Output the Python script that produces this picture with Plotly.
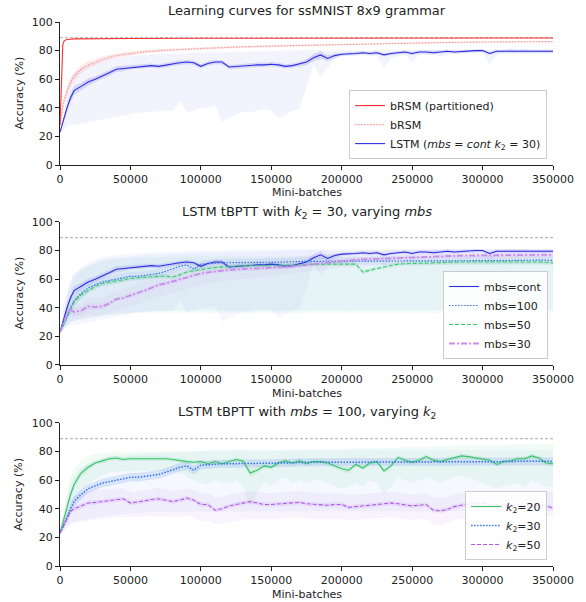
import plotly.graph_objects as go

# ---------------- data ----------------
X = [0, 2500, 5000, 7500] + list(range(10000, 350001, 5000))  # 73 sample points
XTICKS = list(range(0, 350001, 50000))
YTICKS = [0, 20, 40, 60, 80, 100]
BASELINE = 89.0

BRSM_P_X = [0, 500, 1000, 1500, 2000, 3000, 5000, 10000, 20000, 50000, 100000, 150000, 200000, 250000, 300000, 350000]
BRSM_P = [28, 45, 62, 76, 84, 87, 87.8, 88.2, 88.4, 88.5, 88.6, 88.6, 88.7, 88.7, 88.8, 88.8]

BRSM_X = [0, 1000, 2500, 5000, 7500, 10000, 15000, 20000, 25000, 30000, 40000, 50000, 60000, 75000,
          100000, 125000, 150000, 175000, 200000, 225000, 250000, 275000, 300000, 325000, 350000]
BRSM = [28, 36, 44, 52, 58, 62, 67, 70, 72, 74, 76.5, 78, 79.2, 80.3,
        81.6, 82.5, 83.2, 83.8, 84.4, 84.8, 85.3, 85.7, 86, 86.2, 86.3]
BRSM_SD = [0.5, 2, 2.5, 3, 3, 3, 2.5, 2.5, 2, 2, 1.5, 1.5, 1.2, 1,
           0.8, 0.8, 0.7, 0.7, 0.6, 0.6, 0.5, 0.5, 0.5, 0.5, 0.5]

CONT = [23, 32, 40, 47, 52, 55, 58, 60, 62, 64.5,
        67, 67.5, 68.5, 69, 69.5, 69.5, 69, 70, 70.5, 71.5,
        72, 71.5, 69, 71, 72, 72, 68.5, 69, 69.5, 69.5,
        70, 70, 70.5, 70, 69, 69.5, 70.5, 72, 75, 77,
        74.5, 76.5, 77.5, 77.5, 78, 78.5, 78, 78.5, 77, 78,
        78.5, 79, 78, 79, 79, 78.5, 79, 79.5, 79, 79.5,
        79.5, 80, 80, 78, 79.5, 79.5, 80, 79.5, 80, 79.5,
        79.5, 79.5, 79.5]
CONT_SD = [0.5, 2, 3, 3, 3, 2.5, 2.5, 2, 2, 2,
           2, 2, 1.5, 1.5, 1.5, 1.5, 1.5, 1.5, 1.5, 1.5,
           1.5, 1.5, 1.5, 1.5, 1.5, 1.5, 1.5, 1.5, 1.5, 1.5,
           1.5, 1.5, 1.5, 1.5, 1.5, 1.5, 1.5, 2, 2.5, 2.5,
           2, 1.5, 1, 1, 1, 1, 1, 1, 1, 1,
           1, 1, 1, 1, 1, 1, 1, 1, 1, 1,
           1, 1, 1, 1, 1, 1, 1, 1, 1, 1,
           1, 1, 1]
CONT_LO = [22, 25, 27, 28, 28, 29, 30, 31, 32, 33,
           34, 35, 36, 36.5, 37, 37, 37.5, 38, 38, 45,
           37, 38, 40, 40, 42, 30, 33, 35, 37, 37,
           38, 39, 38, 33, 35, 38, 39, 55, 70, 62,
           68, 74, 76, 76, 76, 77, 76, 76, 68, 75,
           76, 77, 72, 77, 77, 77, 76, 77, 78, 78,
           78, 78, 78, 70, 77, 78, 78, 78, 78, 78,
           78, 78, 78]
CONT_HI = [24, 42, 52, 60, 64, 68, 70, 72, 73.5, 74.5,
           75, 76, 76.5, 76.8, 77, 77.2, 77.5, 77.7, 78, 78,
           78.2, 78.4, 78.5, 78.6, 78.7, 78.8, 79, 79, 79.2, 79.3,
           79.4, 79.5, 79.5, 79.6, 79.7, 79.8, 79.9, 80, 80, 80.5,
           80, 80, 80, 80.2, 80.3, 80.4, 80.4, 80.5, 80.5, 80.5,
           80.5, 80.5, 80.5, 80.6, 80.6, 80.7, 80.7, 80.8, 80.8, 80.8,
           80.9, 81, 81, 81, 81, 81, 81, 81, 81, 81,
           81, 81, 81]

# mbs=100, k2=30 (shared by panels 2 and 3)
M100 = [23, 28, 34, 40, 45, 50, 54, 56, 58, 59,
        60, 61.5, 62, 62, 62.5, 63.5, 64, 65.5, 67.5, 69,
        70, 67, 70.5, 71, 71.5, 71.5, 71.5, 71.5, 71.5, 71.8,
        72, 72, 72, 72, 72, 72.2, 72.5, 72.5, 72.5, 72.5,
        72.5, 72.5, 72.5, 72.5, 72.5, 72.5, 72.5, 72.6, 72.7, 72.8,
        73, 73, 73, 73, 73, 73, 73, 73, 73, 73,
        73, 73, 73, 73, 73, 73, 73, 73.2, 73.3, 73.4,
        73.5, 73.3, 73]
M100_SD = [0.5, 2, 3, 3.5, 3.5, 3.5, 3, 3, 3, 3,
           3, 3, 3, 3, 3, 3, 3, 3, 3, 3,
           3, 3, 2.8, 2.8, 2.8, 2.8, 2.8, 2.8, 2.8, 2.8,
           2.8, 2.8, 2.8, 2.8, 2.8, 2.8, 2.8, 2.8, 2.8, 2.8,
           2.8, 2.8, 2.8, 2.8, 2.8, 2.8, 2.8, 2.8, 2.8, 2.8,
           2.8, 2.8, 2.8, 2.8, 2.8, 2.8, 2.8, 2.8, 2.8, 2.8,
           2.8, 2.8, 2.8, 2.8, 2.8, 2.8, 2.8, 2.8, 2.8, 2.8,
           2.8, 2.8, 2.8]
M100_LO = [22, 25, 28, 30, 31, 32, 33, 34, 35, 35.5,
           36, 36.5, 37, 37, 37.5, 38, 38, 38, 38.5, 38.5,
           38, 38, 38.5, 38.5, 38.5, 38.5, 38.5, 38.5, 38.5, 38.5,
           38.5, 38.5, 38.5, 38.5, 38.5, 38.5, 38.5, 38.5, 38.5, 38.5,
           38.5, 38.5, 38.5, 38.5, 38.5, 38.5, 38.5, 38.5, 38.5, 38.5,
           38.5, 38.5, 38.5, 38.5, 38.5, 38.5, 38.5, 38.5, 38.5, 38.5,
           38.5, 38.5, 38.5, 38.5, 38.5, 38.5, 38.5, 38.5, 38.5, 38.5,
           38.5, 38.5, 38.5]
M100_HI = [24, 35, 48, 58, 63, 68, 72, 74, 75.5, 76.5,
           77, 77.5, 78, 78.3, 78.5, 78.7, 79, 79.2, 79.4, 79.6,
           79.8, 80, 80, 80, 80, 80.2, 80.3, 80.4, 80.5, 80.6,
           80.7, 80.8, 80.9, 81, 81, 81, 81, 81, 81, 81,
           81, 81, 81, 81, 81, 81, 81, 81, 81, 81,
           81, 81, 81, 81, 81, 81, 81, 81, 81, 81,
           81, 81, 81, 81, 81, 81, 81, 81, 81, 81,
           81, 81, 81]

M50 = [23, 28, 34, 39, 44, 49, 52, 55, 57, 58,
       59, 60, 60.5, 61, 61.5, 61.8, 62, 62, 61.5, 63,
       65, 66, 67, 67.5, 68, 68.5, 69, 69.3, 69.5, 69.5,
       69.5, 69.8, 70, 70, 70, 70, 70, 70.3, 70.5, 70.5,
       70.5, 70.5, 70.5, 70.5, 70.5, 65, 66.5, 67.5, 68.5, 69.5,
       70.5, 70.8, 71, 71.2, 71.5, 71.7, 71.8, 72, 72, 72,
       72, 72, 72, 72.2, 72.3, 72.5, 72.5, 72.3, 72.2, 72,
       72, 71.8, 71.5]
M50_SD = [0.5, 2, 3, 3, 3, 2.5, 2.5, 2, 2, 2,
          1.5, 1.5, 1.5, 1.5, 1.5, 1.5, 1.5, 1.5, 1.5, 1.5,
          1.5, 1.5, 1.5, 1.5, 1.5, 1.5, 1.5, 1.5, 1.5, 1.5,
          1.5, 1.5, 1.5, 1.5, 1.5, 1.5, 1.5, 1.5, 1.5, 1.5,
          1.5, 1.5, 1.5, 1.5, 1.5, 1.5, 1.5, 1.5, 1.5, 1.5,
          1.5, 1.5, 1.5, 1.5, 1.5, 1.5, 1.5, 1.5, 1.5, 1.5,
          1.5, 1.5, 1.5, 1.5, 1.5, 1.5, 1.5, 1.5, 1.5, 1.5,
          1.5, 1.5, 1.5]
M50_LO = [22, 25, 28, 30, 31, 32, 33, 34, 34.5, 35,
          35.5, 36, 36, 36.5, 36.5, 36.5, 37, 37, 37, 37,
          37, 37, 37, 37, 37, 37, 37, 37, 37, 37,
          37, 37, 37, 37, 37, 37, 37, 37, 37, 37,
          37, 37, 37, 37, 37, 37, 37, 37, 37, 37,
          37, 37, 37, 37, 37, 37, 37, 37, 37, 37,
          37, 37, 37, 37, 37, 37, 37, 37, 37, 37,
          37, 36.5, 36]
M50_HI = [24, 36, 48, 56, 61, 66, 69, 71, 72.5, 73.5,
          74, 74.5, 75, 75, 75.2, 75.4, 75.5, 75.5, 75.6, 75.7,
          75.8, 76, 76, 76, 76, 76, 76, 76, 76, 76,
          76, 76, 76, 76, 76, 76, 76, 76, 76, 76,
          76, 76, 76, 76, 76, 76, 76, 76, 76, 76,
          76, 76, 76, 76, 76, 76, 76, 76, 76, 76,
          76, 76, 76, 76, 76, 76, 76, 76, 76, 76,
          76, 76, 76]

M30 = [23, 30, 36, 38.5, 37, 38, 41, 40.5, 41, 43,
       46, 47, 48.5, 50, 52, 54, 56, 57, 58.5, 60,
       61.5, 63, 64, 64.8, 65.5, 66, 66.5, 66.8, 67, 67.3,
       67.5, 67.8, 68, 68.3, 68.5, 69, 69.5, 70.2, 71, 71.5,
       72, 72.5, 73, 73.2, 73.5, 73.8, 74, 74.3, 74.5, 74.8,
       75, 75.3, 75.5, 75.8, 76, 76.1, 76.2, 76.4, 76.5, 76.5,
       76.5, 76.6, 76.6, 76.7, 76.8, 76.9, 77, 77, 77, 77,
       77, 77, 77]
M30_LO = [22, 27, 31, 33, 32, 33, 35, 34.5, 35, 36.5,
          39, 40, 41, 42.5, 44, 46, 48, 49, 50.5, 52,
          53.5, 55, 56, 57, 58, 58.5, 59, 59.5, 60, 60.5,
          61, 61.5, 62, 62.5, 63, 63.5, 64, 65, 66, 66.5,
          67, 67.5, 68, 68.5, 69, 69.5, 70, 70.3, 70.5, 70.8,
          71, 71.3, 71.5, 71.8, 72, 72, 72.2, 72.4, 72.5, 72.5,
          72.5, 72.6, 72.6, 72.7, 72.8, 72.9, 73, 73, 73, 73,
          73, 73, 73]
M30_HI = [24, 33, 41, 44, 43, 44, 47, 46.5, 47, 49.5,
          52, 53, 55, 57, 59, 61, 63, 64, 65.5, 67,
          68.5, 70, 71, 71.5, 72, 72.5, 73, 73.2, 73.5, 73.8,
          74, 74.3, 74.5, 74.8, 75, 75.5, 76, 76.5, 77, 77.5,
          78, 78.2, 78.5, 78.7, 79, 79.2, 79.4, 79.6, 79.8, 80,
          80, 80.2, 80.4, 80.5, 80.6, 80.7, 80.8, 80.9, 81, 81,
          81, 81, 81, 81, 81, 81, 81, 81, 81, 81,
          81, 81, 81]

K20 = [23, 32, 42, 50, 57, 65, 69, 72, 73.5, 75,
       75.5, 74.5, 75, 75, 75, 75.5, 75.5, 75, 74.5, 73.5,
       73, 72.5, 73, 71.5, 73, 71.5, 73, 74.5, 73.5, 65,
       67, 70, 69, 72, 73.5, 72, 73.5, 71.5, 73, 73,
       72, 70, 68, 67, 71, 68.5, 72, 73, 66.5, 70,
       76, 74, 72.5, 74, 76.5, 74, 73, 74.5, 76, 77,
       76.5, 75.5, 75, 74, 71, 73, 73.5, 75, 75, 77,
       75.5, 72, 71.5]
K20_SD = [0.5, 2, 3, 3, 3, 2.5, 2, 1.5, 1.5, 1.5,
          1.5, 1.5, 1.5, 1.5, 1.5, 1.5, 1.5, 1.5, 1.5, 1.5,
          1.5, 1.5, 1.5, 1.5, 1.5, 1.5, 1.5, 1.5, 1.5, 2.5,
          2, 1.5, 1.5, 1.5, 1.5, 1.5, 1.5, 1.5, 1.5, 1.5,
          1.5, 1.5, 2, 2, 1.5, 1.5, 1.5, 1.5, 2, 1.5,
          1.5, 1.5, 1.5, 1.5, 1.5, 1.5, 1.5, 1.5, 1.5, 1.5,
          1.5, 1.5, 1.5, 1.5, 1.5, 1.5, 1.5, 1.5, 1.5, 1.5,
          1.5, 1.5, 1.5]
K20_LO = [22, 26, 32, 38, 44, 52, 57, 61, 63, 65,
          66, 66, 66.5, 66.5, 66.5, 67, 67, 66.5, 66, 65,
          62, 60, 58, 57, 60, 58, 58, 60, 56, 40,
          52, 58, 56, 60, 62, 58, 60, 57, 60, 60,
          58, 56, 54, 55, 58, 55, 60, 58, 50, 55,
          62, 60, 58, 60, 62, 60, 58, 60, 62, 63,
          62, 60, 58, 56, 54, 56, 57, 58, 55, 60,
          58, 55, 55]
K20_HI = [24, 38, 52, 62, 68, 74, 77, 78.5, 79, 79.5,
          79.5, 79.5, 79.8, 80, 80, 80.2, 80.3, 80.4, 80.5, 80.5,
          80.5, 80.6, 80.7, 80.8, 81, 81, 81.2, 81.5, 81.5, 81,
          80.5, 81, 81, 81.5, 81.5, 81.5, 81.5, 81.5, 81.8, 82,
          82, 82, 82, 82, 82, 82, 82, 82.3, 82, 82.5,
          83, 83, 83, 83, 83.5, 83.5, 83.5, 84, 84, 84.5,
          84.5, 84.5, 84.5, 84.5, 84.5, 84.5, 85, 85, 85, 85.5,
          85.5, 85.5, 85.5]

K50 = [23, 28, 34, 38, 40, 42, 44, 44.5, 45, 46,
       46, 47, 44, 44.5, 45.5, 46.5, 47, 46, 45, 46,
       47.5, 46, 43, 43, 39, 40, 42, 43, 44, 45,
       44, 43, 43, 43.5, 44, 44.5, 44.5, 43.5, 43, 42.5,
       42.5, 43, 43, 41, 41.5, 42, 42.5, 43.5, 44, 44,
       43.5, 42.5, 42, 42.5, 43, 39, 38.5, 39.5, 41.5, 42.5,
       43, 44, 44, 43, 42.5, 42, 42.5, 42, 42.5, 42,
       42.5, 42, 40.5]
K50_SD = [0.5, 1.5, 2, 2, 2, 1.5, 1.5, 1.5, 1.5, 1.5,
          1.5, 1.5, 1.5, 1.5, 1.5, 1.5, 1.5, 1.5, 1.5, 1.5,
          1.5, 1.5, 1.5, 1.5, 1.5, 1.5, 1.5, 1.5, 1.5, 1.5,
          1.5, 1.5, 1.5, 1.5, 1.5, 1.5, 1.5, 1.5, 1.5, 1.5,
          1.5, 1.5, 1.5, 1.5, 1.5, 1.5, 1.5, 1.5, 1.5, 1.5,
          1.5, 1.5, 1.5, 1.5, 1.5, 1.5, 1.5, 1.5, 1.5, 1.5,
          1.5, 1.5, 1.5, 1.5, 1.5, 1.5, 1.5, 1.5, 1.5, 1.5,
          1.5, 1.5, 1.5]
K50_LO = [22, 24, 27, 29, 30, 31, 32, 32.5, 33, 33.5,
          34, 34.5, 34, 34, 34.5, 35, 35, 34.5, 34, 34,
          35, 34, 31, 32, 29, 30, 31, 32, 32.5, 33,
          33, 32.5, 32.5, 33, 33.5, 34, 34, 33, 33, 32.5,
          32.5, 33, 33, 32, 32, 32.5, 33, 33.5, 34, 34,
          33.5, 32.5, 32, 32.5, 33, 29, 28, 30, 32, 33,
          33.5, 34, 34.5, 34, 34, 34, 34.5, 34.5, 35, 35,
          35.5, 35.5, 35]
K50_HI = [24, 32, 41, 46, 49, 51, 52.5, 53, 53.5, 54,
          54, 54.5, 52, 52, 53, 54, 54.5, 53.5, 52.5, 53,
          54.5, 53, 51, 51, 48, 48, 50, 51, 52, 52.5,
          52, 51, 51, 51.5, 52, 52.5, 52.5, 51.5, 51, 50.5,
          50.5, 51, 51, 49.5, 50, 50.5, 51, 51.5, 52, 52,
          51.5, 50.5, 50, 50.5, 51, 48, 47.5, 48.5, 50, 51,
          51.5, 52, 52, 51.5, 51, 51, 51.5, 51.5, 52, 52,
          52.5, 52.5, 52]

# ---------------- styles ----------------
RED = "rgb(255,45,45)"
RED_L = "rgba(255,70,70,0.55)"
BLUE = "rgb(45,45,225)"
BLUE2 = "rgb(50,115,235)"
GREEN = "rgb(60,200,110)"
GREEN2 = "rgb(55,195,105)"
VIOLET = "rgb(200,140,235)"
VIOLET2 = "rgb(175,90,230)"
FONT = "DejaVu Sans"

fig = go.Figure()


def band(xs, lo, hi, fill, ax):
    xa, ya = ax
    fig.add_trace(go.Scatter(x=xs, y=lo, mode="lines", line=dict(width=0), showlegend=False,
                             hoverinfo="skip", xaxis=xa, yaxis=ya))
    fig.add_trace(go.Scatter(x=xs, y=hi, mode="lines", line=dict(width=0), fill="tonexty",
                             fillcolor=fill, showlegend=False, hoverinfo="skip", xaxis=xa, yaxis=ya))


def sdband(xs, mean, sd, fill, ax):
    band(xs, [m - s for m, s in zip(mean, sd)], [m + s for m, s in zip(mean, sd)], fill, ax)


def line(xs, ys, name, color, dash, width, ax, legend):
    xa, ya = ax
    fig.add_trace(go.Scatter(x=xs, y=ys, mode="lines", name=name,
                             line=dict(color=color, dash=dash, width=width),
                             xaxis=xa, yaxis=ya, legend=legend))


def baseline(ax):
    xa, ya = ax
    fig.add_trace(go.Scatter(x=[X[0], X[-1]], y=[BASELINE, BASELINE], mode="lines",
                             line=dict(color="rgb(160,160,160)", dash="3px,2px", width=0.9),
                             showlegend=False, hoverinfo="skip", xaxis=xa, yaxis=ya))


A1, A2, A3 = ("x", "y"), ("x2", "y2"), ("x3", "y3")

# Panel 1
baseline(A1)
band(X, CONT_LO, CONT_HI, "rgba(80,80,230,0.07)", A1)
sdband(X, CONT, CONT_SD, "rgba(80,80,230,0.18)", A1)
sdband(BRSM_X, BRSM, BRSM_SD, "rgba(255,80,80,0.12)", A1)
line(BRSM_P_X, BRSM_P, "bRSM (partitioned)", RED, "solid", 1.1, A1, "legend")
line(BRSM_X, BRSM, "bRSM", RED_L, "1.5px,1.5px", 1.1, A1, "legend")
line(X, CONT, "LSTM (<i>mbs</i> = <i>cont</i> <i>k</i><sub>2</sub> = 30)", BLUE, "solid", 1.1, A1, "legend")

# Panel 2
baseline(A2)
band(X, CONT_LO, CONT_HI, "rgba(80,80,230,0.05)", A2)
band(X, M100_LO, M100_HI, "rgba(60,120,235,0.05)", A2)
band(X, M50_LO, M50_HI, "rgba(60,200,150,0.07)", A2)
band(X, M30_LO, M30_HI, "rgba(200,140,235,0.07)", A2)
sdband(X, CONT, CONT_SD, "rgba(80,80,230,0.15)", A2)
sdband(X, M100, M100_SD, "rgba(60,120,235,0.08)", A2)
sdband(X, M50, M50_SD, "rgba(60,200,110,0.12)", A2)
sdband(X, M30, M50_SD, "rgba(200,140,235,0.15)", A2)
line(X, CONT, "mbs=cont", BLUE, "solid", 1.1, A2, "legend2")
line(X, M100, "mbs=100", BLUE2, "1.5px,1.5px", 1.2, A2, "legend2")
line(X, M50, "mbs=50", GREEN, "4px,2px", 1.1, A2, "legend2")
line(X, M30, "mbs=30", VIOLET, "6px,2px,2px,2px", 1.8, A2, "legend2")

# Panel 3
baseline(A3)
band(X, K20_LO, K20_HI, "rgba(60,200,110,0.07)", A3)
band(X, M100_LO, M100_HI, "rgba(60,120,235,0.05)", A3)
band(X, K50_LO, K50_HI, "rgba(175,90,230,0.07)", A3)
sdband(X, K20, K20_SD, "rgba(60,200,110,0.15)", A3)
sdband(X, M100, M100_SD, "rgba(60,120,235,0.16)", A3)
sdband(X, K50, K50_SD, "rgba(175,90,230,0.13)", A3)
line(X, K20, "<i>k</i><sub>2</sub>=20", GREEN2, "solid", 1.1, A3, "legend3")
line(X, M100, "<i>k</i><sub>2</sub>=30", BLUE2, "1.5px,1.5px", 1.5, A3, "legend3")
line(X, K50, "<i>k</i><sub>2</sub>=50", VIOLET2, "4px,2px", 1.1, A3, "legend3")

# ---------------- layout ----------------
axcommon = dict(showline=True, linecolor="#222", linewidth=1, ticks="outside", ticklen=4,
                tickwidth=1, tickcolor="#222", showgrid=False, zeroline=False,
                tickfont=dict(size=11, color="#222", family=FONT))
xcommon = dict(axcommon, range=[0, 350000], tickvals=XTICKS, tickformat="d")
ycommon = dict(axcommon, range=[0, 100], tickvals=YTICKS)

legcommon = dict(xref="paper", yref="paper", xanchor="right", yanchor="bottom",
                 bgcolor="rgba(255,255,255,0.85)", bordercolor="#cccccc", borderwidth=1,
                 font=dict(size=11, family=FONT, color="#222"), tracegroupgap=0,
                 traceorder="normal")

fig.update_layout(
    width=586, height=602,
    margin=dict(l=60, r=28, t=22, b=36),
    paper_bgcolor="white", plot_bgcolor="white",
    font=dict(family=FONT, size=11, color="#222"),
    xaxis=dict(xcommon, domain=[0, 1], anchor="y"),
    yaxis=dict(ycommon, domain=[0.7371, 1.0], anchor="x"),
    xaxis2=dict(xcommon, domain=[0, 1], anchor="y2"),
    yaxis2=dict(ycommon, domain=[0.3695, 0.6324], anchor="x2"),
    xaxis3=dict(xcommon, domain=[0, 1], anchor="y3"),
    yaxis3=dict(ycommon, domain=[0.0, 0.2629], anchor="x3"),
    legend=dict(legcommon, x=0.988, y=0.748),
    legend2=dict(legcommon, x=0.990, y=0.3805),
    legend3=dict(legcommon, x=0.988, y=0.011),
    showlegend=True,
)

titles = [
    ("Learning curves for ssMNIST 8x9 grammar", 1.022),
    ("LSTM tBPTT with <i>k</i><sub>2</sub> = 30, varying <i>mbs</i>", 0.6507),
    ("LSTM tBPTT with <i>mbs</i> = 100, varying <i>k</i><sub>2</sub>", 0.2813),
]
for text, yy in titles:
    fig.add_annotation(text=text, x=0.5, y=yy, xref="paper", yref="paper", showarrow=False,
                       xanchor="center", yanchor="middle", font=dict(size=13, family=FONT, color="#222"))

for yy in [0.6857, 0.318, -0.0515]:
    fig.add_annotation(text="Mini-batches", x=0.5, y=yy, xref="paper", yref="paper", showarrow=False,
                       xanchor="center", yanchor="middle", font=dict(size=11, family=FONT, color="#222"))

for yy in [0.8686, 0.501, 0.131]:
    fig.add_annotation(text="Accuracy (%)", x=-0.083, y=yy, xref="paper", yref="paper", showarrow=False,
                       textangle=-90, xanchor="center", yanchor="middle",
                       font=dict(size=11, family=FONT, color="#222"))

fig.write_html("out.html", config={"displayModeBar": False},
               post_script="document.body.style.margin='0';document.body.style.overflow='hidden';")
